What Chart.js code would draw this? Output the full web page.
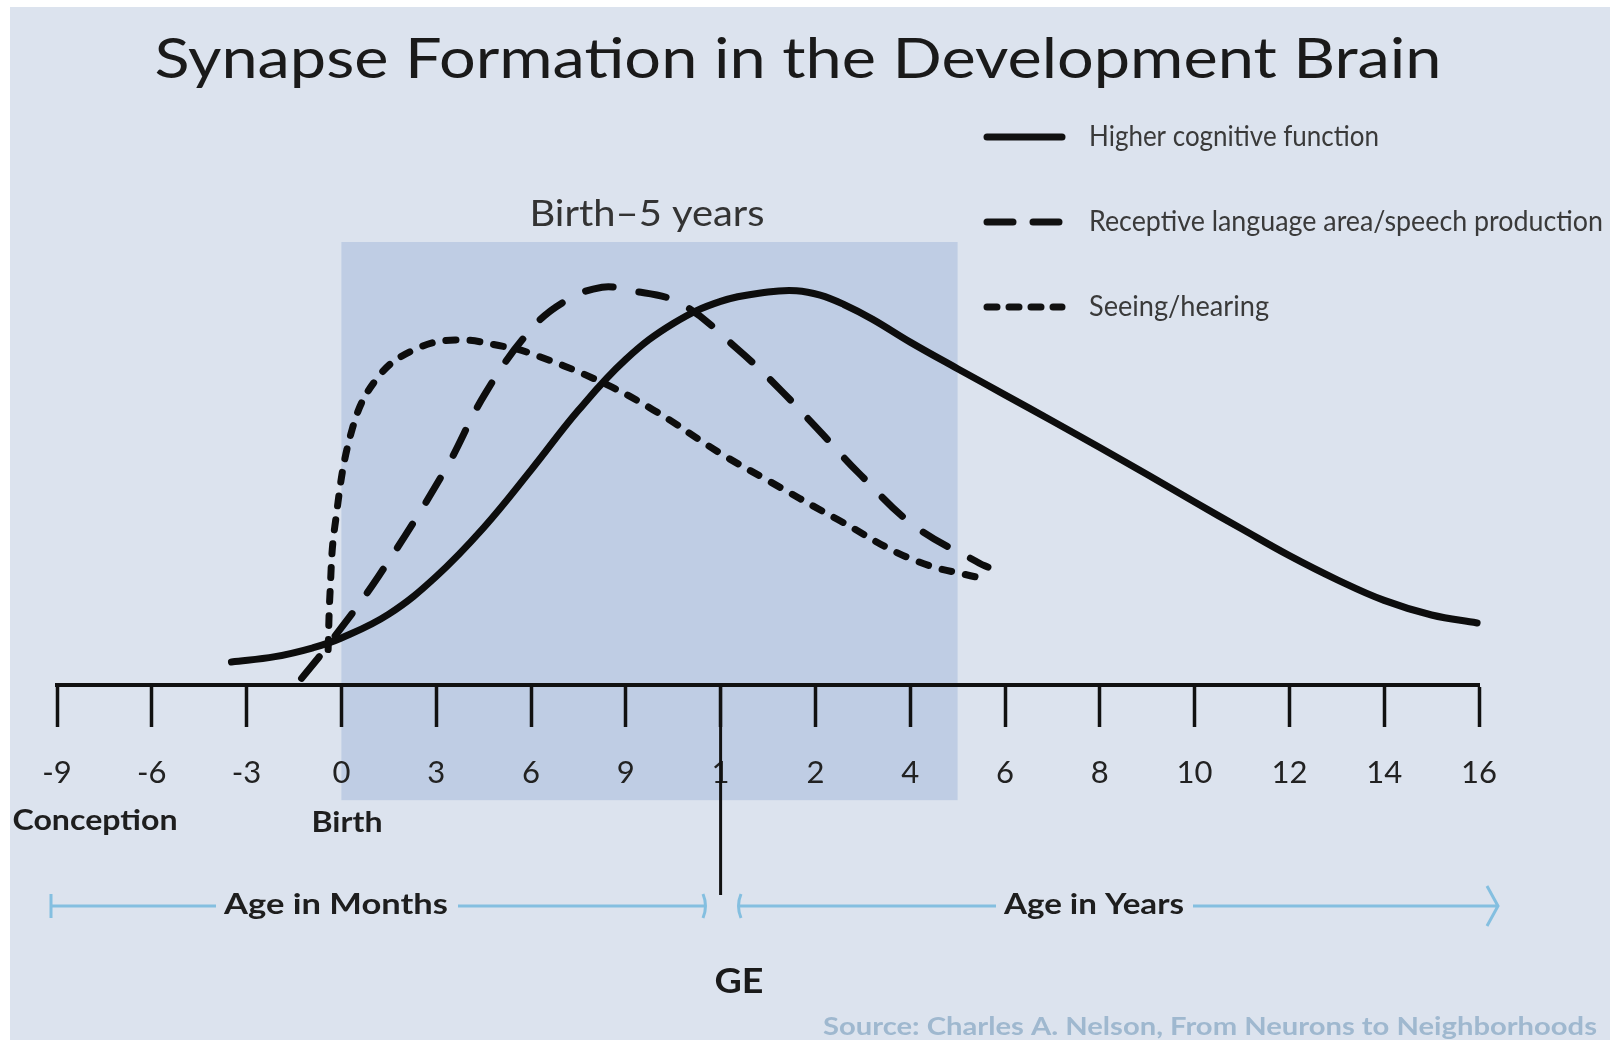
<!DOCTYPE html>
<html>
<head>
<meta charset="utf-8">
<script src="https://cdn.jsdelivr.net/npm/chart.js@4"></script>
<style>
  html, body { margin: 0; padding: 0; background: #fff; }
  canvas { display: block; }
</style>
</head>
<body>
<canvas id="brainChart" width="1614" height="1040"></canvas>
<script>
// Axis: 16 evenly spaced ticks, months first then years
const tickLabels = ['-9', '-6', '-3', '0', '3', '6', '9', '1', '2', '4', '6', '8', '10', '12', '14', '16'];

// Higher cognitive function (solid)
const higherX = [1.84, 2.3, 2.7, 3.0, 3.5, 4.0, 4.5, 5.0, 5.5, 6.0, 6.5, 7.0, 7.5, 7.8, 8.05, 8.3, 8.6, 9.0, 9.5, 10.0, 10.5, 11.0, 11.5, 12.0, 12.5, 13.0, 13.5, 14.0, 14.5, 14.98];
const higherY = [5.2, 6.4, 8.4, 10.6, 16.0, 24.5, 35.5, 48.5, 62.0, 73.5, 81.6, 86.6, 88.7, 89.0, 88.0, 85.9, 82.6, 77.4, 71.4, 65.5, 59.6, 53.6, 47.5, 41.3, 35.2, 29.2, 23.8, 19.1, 15.8, 14.0];

// Receptive language area / speech production (long dash)
const languageX = [2.58, 2.85, 3.39, 4.09, 4.52, 5.01, 5.38, 5.75, 6.01, 6.57, 7.17, 7.66, 8.08, 8.45, 9.04, 9.73, 9.82];
const languageY = [1.5, 8.7, 24.5, 48.4, 65.9, 80.5, 86.9, 89.8, 89.2, 86.2, 76.0, 66.0, 56.5, 48.0, 36.0, 27.5, 26.6];

// Seeing / hearing (short dash)
const seeingX = [2.86, 2.88, 2.93, 3.12, 3.39, 3.76, 4.20, 4.74, 4.99, 5.70, 6.29, 6.99, 7.43, 8.24, 9.04, 9.80];
const seeingY = [8.0, 20.8, 35.7, 58.2, 69.6, 75.6, 77.9, 76.3, 74.9, 68.8, 62.1, 52.4, 47.0, 37.3, 28.2, 23.8];

// "Birth-5 years" band, in axis units
const bandStart = 3;
const bandEnd = 9.5;

const seriesNames = ['Higher cognitive function', 'Receptive language area/speech production', 'Seeing/hearing'];

const toPoints = (xs, ys) => xs.map((x, i) => ({ x: x, y: ys[i] }));

const BG = '#dce3ee';
const BAND = '#bfcde4';
const ARROW = '#84bfe0';

// draw text squeezed/stretched to a given width
function fitText(ctx, text, x, y, w, font, color, align) {
  ctx.save();
  ctx.font = font;
  ctx.fillStyle = color;
  ctx.textBaseline = 'middle';
  ctx.textAlign = align;
  const m = ctx.measureText(text).width;
  ctx.translate(x, y);
  ctx.scale(w / m, 1);
  ctx.fillText(text, 0, 0);
  ctx.restore();
}

const decor = {
  id: 'decor',
  beforeDraw(chart) {
    const ctx = chart.ctx;
    const xs = chart.scales.x, ys = chart.scales.y;
    ctx.save();
    ctx.fillStyle = '#fff';
    ctx.fillRect(0, 0, chart.width, chart.height);
    ctx.fillStyle = BG;
    ctx.fillRect(10, 7, 1600, 1033);
    // shaded birth-5 years band
    const bx0 = xs.getPixelForValue(bandStart), bx1 = xs.getPixelForValue(bandEnd);
    const by0 = ys.getPixelForValue(100), by1 = ys.getPixelForValue(-26);
    ctx.fillStyle = BAND;
    ctx.fillRect(bx0, by0, bx1 - bx0, by1 - by0);
    ctx.restore();
  },
  afterDraw(chart) {
    const ctx = chart.ctx;
    const xs = chart.scales.x, ys = chart.scales.y;
    const axisY = ys.getPixelForValue(0);
    ctx.save();

    // title
    fitText(ctx, 'Synapse Formation in the Development Brain', 798, 60, 1287, '400 57px Lato', '#1a1a1a', 'center');
    fitText(ctx, 'Birth\u20135 years', 647, 214, 235, '400 37px Lato', '#333', 'center');

    // legend
    const rows = [137, 222, 307];
    const legendDash = [[], [26, 20], [10, 12]];
    rows.forEach((ry, i) => {
      ctx.save();
      ctx.strokeStyle = '#111';
      ctx.lineWidth = 7;
      ctx.lineCap = 'round';
      ctx.setLineDash(legendDash[i]);
      ctx.beginPath();
      ctx.moveTo(987, ry);
      ctx.lineTo(1062, ry);
      ctx.stroke();
      ctx.restore();
    });
    fitText(ctx, seriesNames[0], 1089, 137, 290, '400 29px Lato', '#3a3a3a', 'left');
    fitText(ctx, seriesNames[1], 1089, 222, 514, '400 29px Lato', '#3a3a3a', 'left');
    fitText(ctx, seriesNames[2], 1089, 307, 180, '400 29px Lato', '#3a3a3a', 'left');

    // GE divider, longer than the other ticks
    const geX = xs.getPixelForValue(7);
    ctx.strokeStyle = '#111';
    ctx.lineWidth = 3;
    ctx.beginPath();
    ctx.moveTo(geX, axisY);
    ctx.lineTo(geX, 895);
    ctx.stroke();

    // labels below the ticks
    fitText(ctx, 'Conception', 95, 821, 165, '700 29px Lato', '#1e1e1e', 'center');
    fitText(ctx, 'Birth', 347, 823, 71, '700 29px Lato', '#1e1e1e', 'center');

    // age arrows
    const arrowY = 906;
    ctx.strokeStyle = ARROW;
    ctx.lineWidth = 3;
    ctx.beginPath();
    ctx.moveTo(51, arrowY); ctx.lineTo(705, arrowY);
    ctx.moveTo(51, arrowY - 12); ctx.lineTo(51, arrowY + 12);
    ctx.moveTo(703, arrowY - 12); ctx.quadraticCurveTo(708, arrowY, 703, arrowY + 12);
    ctx.moveTo(741, arrowY - 12); ctx.quadraticCurveTo(736, arrowY, 741, arrowY + 12);
    ctx.moveTo(739, arrowY); ctx.lineTo(1498, arrowY);
    ctx.moveTo(1487, arrowY - 20); ctx.lineTo(1498, arrowY); ctx.lineTo(1487, arrowY + 20);
    ctx.stroke();

    ctx.fillStyle = BG;
    ctx.fillRect(216, arrowY - 16, 242, 32);
    ctx.fillRect(996, arrowY - 16, 197, 32);
    fitText(ctx, 'Age in Months', 336, 905, 224, '700 29px Lato', '#1e1e1e', 'center');
    fitText(ctx, 'Age in Years', 1094, 905, 180, '700 29px Lato', '#1e1e1e', 'center');

    fitText(ctx, 'GE', 739, 982, 49, '700 34px Lato', '#1a1a1a', 'center');
    fitText(ctx, 'Source: Charles A. Nelson, From Neurons to Neighborhoods', 1597, 1027, 774, '700 24px Lato', '#9fb8cf', 'right');

    ctx.restore();
  }
};

const ctx = document.getElementById('brainChart').getContext('2d');

new Chart(ctx, {
  type: 'line',
  data: {
    datasets: [{
      label: seriesNames[0],
      data: toPoints(higherX, higherY),
      borderColor: '#0d0d0d',
      borderWidth: 7,
      borderCapStyle: 'round'
    }, {
      label: seriesNames[1],
      data: toPoints(languageX, languageY),
      borderColor: '#0d0d0d',
      borderWidth: 7,
      borderDash: [28, 26],
      borderCapStyle: 'round'
    }, {
      label: seriesNames[2],
      data: toPoints(seeingX, seeingY),
      borderColor: '#0d0d0d',
      borderWidth: 7,
      borderDash: [10, 14],
      borderCapStyle: 'round'
    }]
  },
  options: {
    responsive: false,
    animation: false,
    devicePixelRatio: 1,
    layout: {
      padding: { left: 57, right: 135, top: 242, bottom: 225 }
    },
    elements: {
      point: { radius: 0, hoverRadius: 0 },
      line: { tension: 0.4, fill: false }
    },
    datasets: {
      line: { clip: false }
    },
    scales: {
      x: {
        type: 'linear',
        min: 0,
        max: 15,
        afterBuildTicks: (scale) => {
          scale.ticks = tickLabels.map((_, i) => ({ value: i }));
        },
        afterFit: (scale) => { scale.height = 130; },
        grid: {
          drawOnChartArea: false,
          drawTicks: true,
          tickLength: 42,
          tickWidth: 3.5,
          tickColor: '#111'
        },
        border: { display: true, color: '#111', width: 4 },
        ticks: {
          padding: 27,
          color: '#222',
          font: { family: 'Lato', size: 31 },
          maxRotation: 0,
          autoSkip: false,
          callback: (value) => tickLabels[Math.round(value)]
        }
      },
      y: {
        display: false,
        min: 0,
        max: 100
      }
    },
    plugins: {
      legend: { display: false },
      tooltip: { enabled: false }
    }
  },
  plugins: [decor]
});
</script>
</body>
</html>
